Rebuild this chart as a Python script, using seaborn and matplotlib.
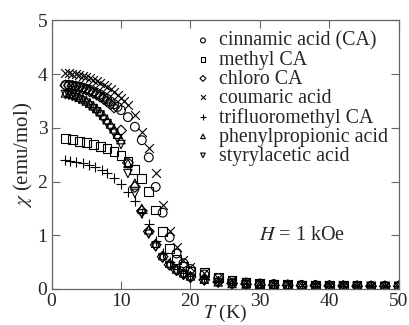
import matplotlib
matplotlib.use("Agg")
import matplotlib.pyplot as plt
import seaborn as sns

# Magnetic susceptibility vs temperature, H = 1 kOe
T_dense_half = [2, 2.5, 3, 3.5, 4, 4.5, 5, 5.5, 6, 6.5, 7, 7.5, 8, 8.5, 9, 9.5, 10]
T_tail = [22, 24, 26, 28, 30, 32, 34, 36, 38, 40, 42, 44, 46, 48, 50]

T_cinnamic = T_dense_half + [11, 12, 13, 14, 15, 16, 17, 18, 19, 20] + T_tail
chi_cinnamic = [3.80, 3.80, 3.79, 3.78, 3.77, 3.75, 3.73, 3.71, 3.68, 3.65, 3.62, 3.58,
                3.54, 3.49, 3.44, 3.39, 3.33,
                3.20, 3.02, 2.77, 2.45, 1.90, 1.42, 0.96, 0.66, 0.48, 0.37,
                0.27, 0.20, 0.15, 0.12, 0.10, 0.09, 0.08, 0.075, 0.07, 0.065, 0.06, 0.06,
                0.055, 0.055, 0.05]

T_methyl = [2, 3, 4, 5, 6, 7, 8, 9, 10, 11, 12, 13, 14, 15, 16, 17, 18, 19, 20] + T_tail
chi_methyl = [2.80, 2.78, 2.75, 2.72, 2.69, 2.66, 2.62, 2.56, 2.48, 2.38, 2.22, 2.05,
              1.81, 1.47, 1.07, 0.76, 0.55, 0.42, 0.33,
              0.30, 0.21, 0.16, 0.12, 0.10, 0.09, 0.08, 0.075, 0.07, 0.065, 0.06, 0.06,
              0.055, 0.055, 0.05]

T_chloro = [2, 2.5, 3, 3.5, 4, 4.5, 5, 5.5, 6, 6.5, 7, 7.5, 8, 8.5, 9,
            10, 11, 12, 13, 14, 15, 16, 17, 18, 19, 20] + T_tail
chi_chloro = [3.79, 3.79, 3.78, 3.77, 3.75, 3.73, 3.71, 3.68, 3.65, 3.62, 3.58, 3.54,
              3.49, 3.44, 3.38,
              2.95, 2.35, 1.90, 1.45, 1.07, 0.82, 0.60, 0.45, 0.35, 0.28, 0.22,
              0.17, 0.13, 0.10, 0.09, 0.08, 0.07, 0.065, 0.06, 0.06, 0.055, 0.055,
              0.05, 0.05, 0.05, 0.05]

T_coumaric = T_dense_half + [10.5, 11, 12, 13, 14, 15, 16, 17, 18, 19, 20] + T_tail
chi_coumaric = [4.02, 4.02, 4.01, 4.00, 3.99, 3.97, 3.95, 3.93, 3.90, 3.87, 3.84, 3.80,
                3.76, 3.72, 3.67, 3.62, 3.56, 3.50, 3.43,
                3.24, 2.93, 2.62, 2.15, 1.56, 1.07, 0.79, 0.54, 0.41,
                0.29, 0.21, 0.16, 0.13, 0.11, 0.10, 0.09, 0.08, 0.075, 0.07, 0.065,
                0.06, 0.06, 0.055, 0.055]

T_trifluoro = [2, 2.7, 3.5, 4.5, 5.4, 6.3, 7.2, 8, 9, 10, 11, 12, 13, 14, 15, 16, 17,
               18, 19, 20] + T_tail
chi_trifluoro = [2.40, 2.38, 2.36, 2.34, 2.31, 2.27, 2.22, 2.15, 2.06, 1.96, 1.81, 1.63,
                 1.42, 1.20, 0.90, 0.67, 0.50, 0.38, 0.30, 0.24,
                 0.18, 0.14, 0.11, 0.09, 0.08, 0.07, 0.065, 0.06, 0.06, 0.055, 0.055,
                 0.05, 0.05, 0.05, 0.05]

T_phenyl = T_dense_half + [11, 12, 13, 14, 15, 16, 17, 18, 19, 20] + T_tail
chi_phenyl = [3.65, 3.64, 3.62, 3.60, 3.57, 3.54, 3.50, 3.46, 3.41, 3.36, 3.30, 3.23,
              3.15, 3.07, 2.98, 2.88, 2.78,
              2.34, 1.97, 1.50, 1.10, 0.85, 0.62, 0.48, 0.37, 0.30, 0.24,
              0.18, 0.13, 0.10, 0.09, 0.08, 0.07, 0.065, 0.06, 0.06, 0.055, 0.055,
              0.05, 0.05, 0.05, 0.05]

T_styryl = T_dense_half + [11, 12, 13, 14, 15, 16, 17, 18, 19, 20] + T_tail
chi_styryl = [3.62, 3.61, 3.59, 3.56, 3.53, 3.50, 3.46, 3.41, 3.36, 3.30, 3.24, 3.16,
              3.08, 2.99, 2.90, 2.80, 2.69,
              2.15, 1.78, 1.40, 1.02, 0.78, 0.57, 0.43, 0.33, 0.25, 0.20,
              0.15, 0.12, 0.10, 0.08, 0.07, 0.07, 0.06, 0.06, 0.055, 0.055, 0.05,
              0.05, 0.05, 0.05, 0.05]

series = [
    ("cinnamic acid (CA)", T_cinnamic, chi_cinnamic, "o"),
    ("methyl CA", T_methyl, chi_methyl, "s"),
    ("chloro CA", T_chloro, chi_chloro, "D"),
    ("coumaric acid", T_coumaric, chi_coumaric, "x"),
    ("trifluoromethyl CA", T_trifluoro, chi_trifluoro, "+"),
    ("phenylpropionic acid", T_phenyl, chi_phenyl, "^"),
    ("styrylacetic acid", T_styryl, chi_styryl, "v"),
]

sns.set_style("ticks")
plt.rcParams["font.family"] = ["Liberation Serif", "DejaVu Serif"]
plt.rcParams["mathtext.fontset"] = "stix"

fig = plt.figure(figsize=(4.09, 3.25), dpi=100)
ax = fig.add_axes([0.126, 0.111, 0.849, 0.826])

sizes = {"o": 40, "s": 40, "D": 30, "x": 40, "+": 46, "^": 36, "v": 36}
for label, T, chi, m in series:
    if m in ("x", "+"):
        sns.scatterplot(x=T, y=chi, marker=m, s=sizes[m], color="black",
                        linewidth=0.8, ax=ax, label=label)
    else:
        sns.scatterplot(x=T, y=chi, marker=m, s=sizes[m], facecolor="none",
                        edgecolor="black", linewidth=0.8, ax=ax, label=label)

ax.set_xlim(0, 50)
ax.set_ylim(0, 5)
ax.set_xticks([0, 10, 20, 30, 40, 50])
ax.set_yticks([0, 1, 2, 3, 4, 5])
ax.tick_params(direction="in", top=True, right=True, length=6, width=0.8,
               labelsize=14, color="#666666", pad=3)
for sp in ax.spines.values():
    sp.set_color("#666666")
    sp.set_linewidth(0.9)

ax.set_xlabel(r"$T$ (K)", fontsize=14, labelpad=-5)
ax.set_ylabel(r"$\chi$ (emu/mol)", fontsize=15, labelpad=2)

ax.text(36, 1.0, r"$H$ = 1 kOe", ha="center", va="center", fontsize=14.5)

ax.legend(loc="upper right", frameon=False, fontsize=14.3, labelspacing=0.0,
          handletextpad=0.3, markerscale=0.55, borderaxespad=0.15,
          handlelength=1.0)

fig.savefig("out.png", dpi=100)
